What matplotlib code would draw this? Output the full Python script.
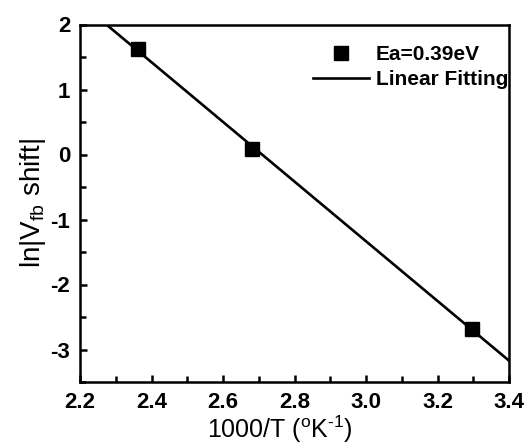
import numpy as np
import matplotlib
matplotlib.use("Agg")
import matplotlib.pyplot as plt
from matplotlib.ticker import MultipleLocator

# data
inv_t = [2.363, 2.682, 3.297]
ln_vfb = [1.616, 0.085, -2.685]

plt.rcParams['font.family'] = ['Liberation Sans', 'DejaVu Sans']
plt.rcParams['mathtext.fontset'] = 'custom'
plt.rcParams['mathtext.rm'] = 'Liberation Sans'
plt.rcParams['mathtext.it'] = 'Liberation Sans'
plt.rcParams['axes.unicode_minus'] = False


def main():
    fig = plt.figure(figsize=(5.26, 4.46), dpi=100)
    ax = fig.add_axes([80 / 526, 1 - 382 / 446, 429 / 526, 357.5 / 446])

    # linear fit of the measured points
    slope, icpt = np.polyfit(inv_t, ln_vfb, 1)
    xf = np.array([2.2, 3.4])
    ax.plot(xf, slope * xf + icpt, color='black', lw=1.9, label='Linear Fitting', zorder=2)
    ax.plot(inv_t, ln_vfb, 's', color='black', ms=10, label='Ea=0.39eV', zorder=3)

    ax.set_xlim(2.2, 3.4)
    ax.set_ylim(-3.5, 2)
    ax.xaxis.set_major_locator(MultipleLocator(0.2))
    ax.xaxis.set_minor_locator(MultipleLocator(0.1))
    ax.yaxis.set_major_locator(MultipleLocator(1))
    ax.yaxis.set_minor_locator(MultipleLocator(0.5))
    ax.xaxis.set_major_formatter(matplotlib.ticker.FormatStrFormatter('%.1f'))
    ax.tick_params(which='both', direction='in', width=1.8, top=False, right=False)
    ax.tick_params(which='major', length=5, labelsize=16, pad=7)
    ax.tick_params(which='minor', length=4)
    for lab in ax.get_xticklabels() + ax.get_yticklabels():
        lab.set_fontweight('bold')
    for s in ax.spines.values():
        s.set_linewidth(1.8)

    ax.set_xlabel(r'1000/T ($\mathregular{^o}$K$\mathregular{^{\text{-}1}}$)', fontsize=18)
    ax.xaxis.set_label_coords(0.465, -0.088)
    ax.set_ylabel(r'ln|V$\mathregular{_{fb}}$ shift|', fontsize=20, labelpad=2)

    h, l = ax.get_legend_handles_labels()
    ax.legend(h[::-1], l[::-1], loc='upper right', bbox_to_anchor=(0.998, 0.943),
              frameon=False, prop={'weight': 'bold', 'size': 15}, handlelength=2.7,
              borderaxespad=0, borderpad=0, labelspacing=0.3, handletextpad=0.33)

    fig.savefig('out.png', dpi=100)


if __name__ == "__main__":
    main()
